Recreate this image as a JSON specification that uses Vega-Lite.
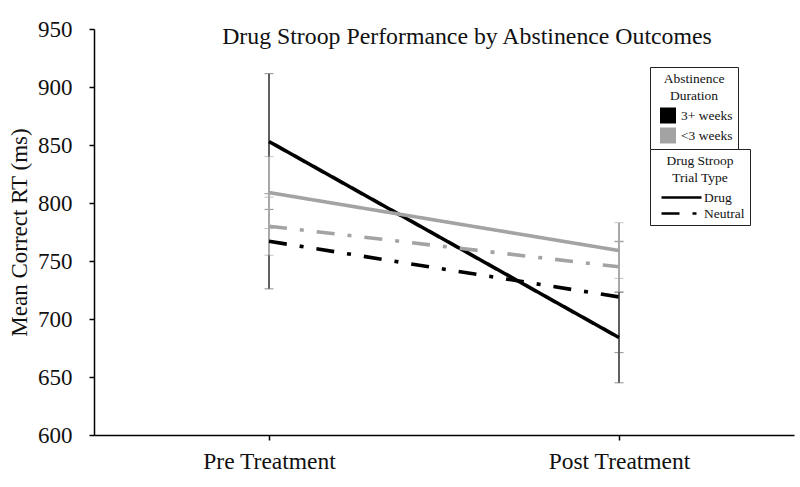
{
  "$schema": "https://vega.github.io/schema/vega-lite/v6.json",
  "width": 700,
  "height": 406,
  "autosize": "none",
  "padding": {"left": 94, "top": 29, "right": 6, "bottom": 52},
  "background": "white",
  "title": {
    "text": "Drug Stroop Performance by Abstinence Outcomes",
    "font": "Liberation Serif",
    "fontSize": 23.8,
    "fontWeight": "normal",
    "color": "#111111",
    "anchor": "middle",
    "frame": "group",
    "offset": -31,
    "dx": 23
  },
  "data": {
    "values": [
      {"time": "Pre Treatment", "abst": "3+ weeks", "trial": "Drug", "mean": 853, "lo": 794.5, "hi": 911.5},
      {"time": "Post Treatment", "abst": "3+ weeks", "trial": "Drug", "mean": 684, "lo": 645, "hi": 723},
      {"time": "Pre Treatment", "abst": "3+ weeks", "trial": "Neutral", "mean": 767, "lo": 726, "hi": 808},
      {"time": "Post Treatment", "abst": "3+ weeks", "trial": "Neutral", "mean": 719, "lo": 671, "hi": 767},
      {"time": "Pre Treatment", "abst": "<3 weeks", "trial": "Drug", "mean": 809, "lo": 778, "hi": 840},
      {"time": "Post Treatment", "abst": "<3 weeks", "trial": "Drug", "mean": 759, "lo": 735, "hi": 783},
      {"time": "Pre Treatment", "abst": "<3 weeks", "trial": "Neutral", "mean": 780, "lo": 755, "hi": 805},
      {"time": "Post Treatment", "abst": "<3 weeks", "trial": "Neutral", "mean": 745, "lo": 723.5, "hi": 766.5}
    ]
  },
  "encoding": {
    "x": {
      "field": "time",
      "type": "nominal",
      "sort": ["Pre Treatment", "Post Treatment"],
      "scale": {"type": "point", "padding": 0.5},
      "axis": {"title": null, "labelAngle": 0, "labelPadding": 9, "labelFontSize": 23.5}
    }
  },
  "layer": [
    {
      "mark": {"type": "errorbar", "ticks": {"size": 9, "strokeWidth": 1.5}, "rule": {"strokeWidth": 2}},
      "encoding": {
        "y": {
          "field": "lo",
          "type": "quantitative",
          "scale": {"domain": [600, 950], "nice": false, "zero": false},
          "title": "Mean Correct RT (ms)"
        },
        "y2": {"field": "hi"},
        "color": {
          "field": "abst",
          "type": "nominal",
          "scale": {"domain": ["3+ weeks", "<3 weeks"], "range": ["#5f5f5f", "#a8a8a8"]},
          "legend": null
        }
      }
    },
    {
      "mark": {"type": "line", "strokeWidth": 3.6, "strokeCap": "butt"},
      "encoding": {
        "y": {
          "field": "mean",
          "type": "quantitative",
          "scale": {"domain": [600, 950], "nice": false, "zero": false},
          "title": "Mean Correct RT (ms)",
          "axis": {
            "values": [600, 650, 700, 750, 800, 850, 900, 950],
            "grid": false,
            "labelPadding": 17,
            "labelFontSize": 23,
            "titleFontSize": 23,
            "titlePadding": 6
          }
        },
        "color": {
          "field": "abst",
          "type": "nominal",
          "scale": {"domain": ["3+ weeks", "<3 weeks"], "range": ["#000000", "#a3a3a3"]},
          "legend": {
            "title": ["Abstinence", "Duration"],
            "orient": "none",
            "legendX": 556,
            "legendY": 38,
            "symbolType": "square",
            "symbolSize": 256,
            "symbolStrokeWidth": 0,
            "symbolOffset": 5,
            "labelOffset": 5,
            "rowPadding": 4,
            "titlePadding": 5,
            "padding": 5,
            "encode": {
              "symbols": {
                "update": {
                  "fill": {"signal": "datum.value === '3+ weeks' ? '#000000' : '#a3a3a3'"},
                  "stroke": {"value": "transparent"}
                }
              }
            }
          }
        },
        "strokeDash": {
          "field": "trial",
          "type": "nominal",
          "scale": {"domain": ["Drug", "Neutral"], "range": [[1, 0], [18, 13, 4, 13]]},
          "legend": {
            "title": ["Drug Stroop", "Trial Type"],
            "orient": "none",
            "legendX": 556,
            "legendY": 120,
            "symbolType": "M-2.667,0H2.667",
            "symbolSize": 225,
            "symbolStrokeWidth": 2.5,
            "symbolStrokeColor": "black",
            "symbolOffset": 17.5,
            "labelOffset": 13.5,
            "rowPadding": -2,
            "titlePadding": 4,
            "padding": 5
          }
        }
      }
    }
  ],
  "resolve": {"scale": {"color": "independent"}},
  "config": {
    "font": "Liberation Serif",
    "view": {"stroke": null},
    "axis": {
      "domainColor": "#000000",
      "domainWidth": 1.5,
      "tickColor": "#000000",
      "tickWidth": 1.5,
      "tickSize": 5,
      "labelFont": "Liberation Serif",
      "titleFont": "Liberation Serif",
      "labelColor": "#111111",
      "titleColor": "#111111",
      "titleFontWeight": "normal"
    },
    "legend": {
      "titleFont": "Liberation Serif",
      "labelFont": "Liberation Serif",
      "titleFontSize": 13.5,
      "labelFontSize": 13.5,
      "titleFontWeight": "normal",
      "titleColor": "#111111",
      "labelColor": "#111111",
      "titleAnchor": "middle",
      "titleAlign": "center",
      "titleLineHeight": 17,
      "strokeColor": "#222222",
      "fillColor": "white"
    }
  }
}
